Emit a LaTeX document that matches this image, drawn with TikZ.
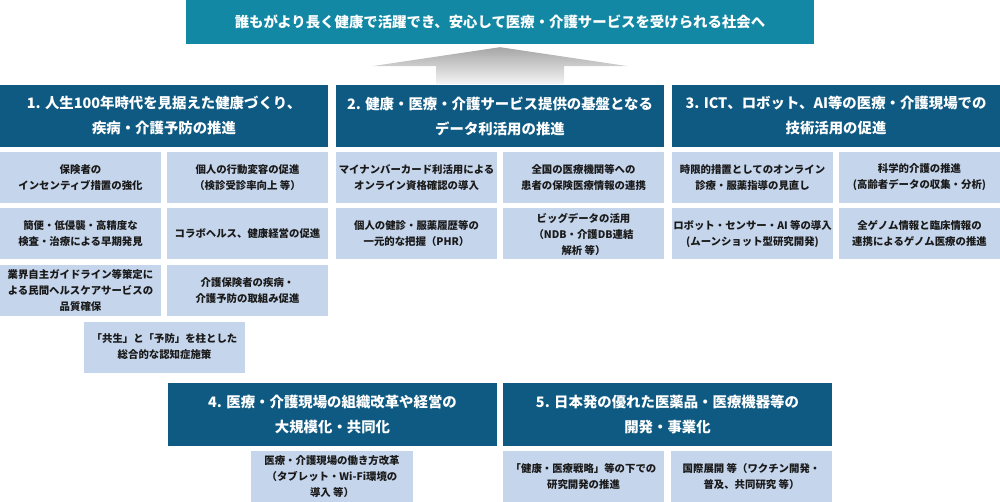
\documentclass[tikz,border=0pt]{standalone}
\usepackage{fontspec}
\setmainfont{Noto Sans CJK JP}
\usetikzlibrary{calc}
\definecolor{goal}{HTML}{1288A4}
\definecolor{navy}{HTML}{0F5A82}
\definecolor{pale}{HTML}{C5D5EC}
\definecolor{ink}{HTML}{1A1A1A}
\tikzset{
  basebox/.style={align=center,inner sep=0pt,text=white,font=\fontsize{14.4}{25}\selectfont\bfseries},
  goalbox/.style={basebox,fill=goal,minimum width=628pt,minimum height=44pt},
  headbox/.style={basebox,fill=navy,minimum width=328pt,minimum height=62pt},
  itembox/.style={basebox,fill=pale,text=ink,minimum width=161pt,minimum height=51pt,font=\fontsize{10.4}{16}\selectfont\bfseries}
}
\begin{document}
\begin{tikzpicture}[x=1pt,y=-1pt,
    lowhead/.style={headbox,minimum width=329pt,minimum height=63pt}
  ]
    \useasboundingbox (0,0) rectangle (1000,502);

    \node[goalbox] (goal) at (500,22) {誰もがより長く健康で活躍でき、安心して医療・介護サービスを受けられる社会へ};
    \coordinate (tip) at ($(goal.south)+(0,3)$);
    \shade[top color=gray!70,bottom color=gray!8] (tip) -- ++(128,19) -- ++(-64,0) -- ++(0,18) -- ++(-128,0) -- ++(0,-18) -- ++(-64,0) -- cycle;

    \node[headbox] (h1) at (164,116) {1. 人生100年時代を見据えた健康づくり、\\疾病・介護予防の推進};
    \node[headbox] (h2) at (500,116) {2. 健康・医療・介護サービス提供の基盤となる\\データ利活用の推進};
    \node[headbox] (h3) at (836,116) {3. ICT、ロボット、AI等の医療・介護現場での\\技術活用の促進};

    \node[itembox] (s1a) at (80.5,177.5) {保険者の\\インセンティブ措置の強化};
    \node[itembox] (s1b) at (247.5,177.5) {個人の行動変容の促進\\（検診受診率向上 等）};
    \node[itembox] (s1c) at (80.5,234) {簡便・低侵襲・高精度な\\検査・治療による早期発見};
    \node[itembox] (s1d) at (247.5,234) {コラボヘルス、健康経営の促進};
    \node[itembox] (s1e) at (80.5,290.5) {業界自主ガイドライン等策定に\\よる民間ヘルスケアサービスの\\品質確保};
    \node[itembox] (s1f) at (247.5,290.5) {介護保険者の疾病・\\介護予防の取組み促進};
    \node[itembox] (s1g) at (164.5,347) {「共生」と「予防」を柱とした\\総合的な認知症施策};

    \node[itembox] (s2a) at (416.5,177.5) {マイナンバーカード利活用による\\オンライン資格確認の導入};
    \node[itembox] (s2b) at (583.5,177.5) {全国の医療機関等への\\患者の保険医療情報の連携};
    \node[itembox] (s2c) at (416.5,234) {個人の健診・服薬履歴等の\\一元的な把握（PHR）};
    \node[itembox] (s2d) at (583.5,234) {ビッグデータの活用\\（NDB・介護DB連結\\解析 等）};

    \node[itembox] (s3a) at (752.5,177.5) {時限的措置としてのオンライン\\診療・服薬指導の見直し};
    \node[itembox] (s3b) at (919.5,177.5) {科学的介護の推進\\(高齢者データの収集・分析)};
    \node[itembox] (s3c) at (752.5,234) {ロボット・センサー・AI 等の導入\\(ムーンショット型研究開発)};
    \node[itembox] (s3d) at (919.5,234) {全ゲノム情報と臨床情報の\\連携によるゲノム医療の推進};

    \node[lowhead] (h4) at (332.5,414.5) {4. 医療・介護現場の組織改革や経営の\\大規模化・共同化};
    \node[lowhead] (h5) at (667.5,414.5) {5. 日本発の優れた医薬品・医療機器等の\\開発・事業化};

    \node[itembox,minimum width=162pt] (s4a) at (332,476.5) {医療・介護現場の働き方改革\\（タブレット・Wi-Fi環境の\\導入 等）};
    \node[itembox] (s5a) at (583.5,476.5) {「健康・医療戦略」等の下での\\研究開発の推進};
    \node[itembox] (s5b) at (751.5,476.5) {国際展開 等（ワクチン開発・\\普及、共同研究 等）};
  \end{tikzpicture}
\end{document}
